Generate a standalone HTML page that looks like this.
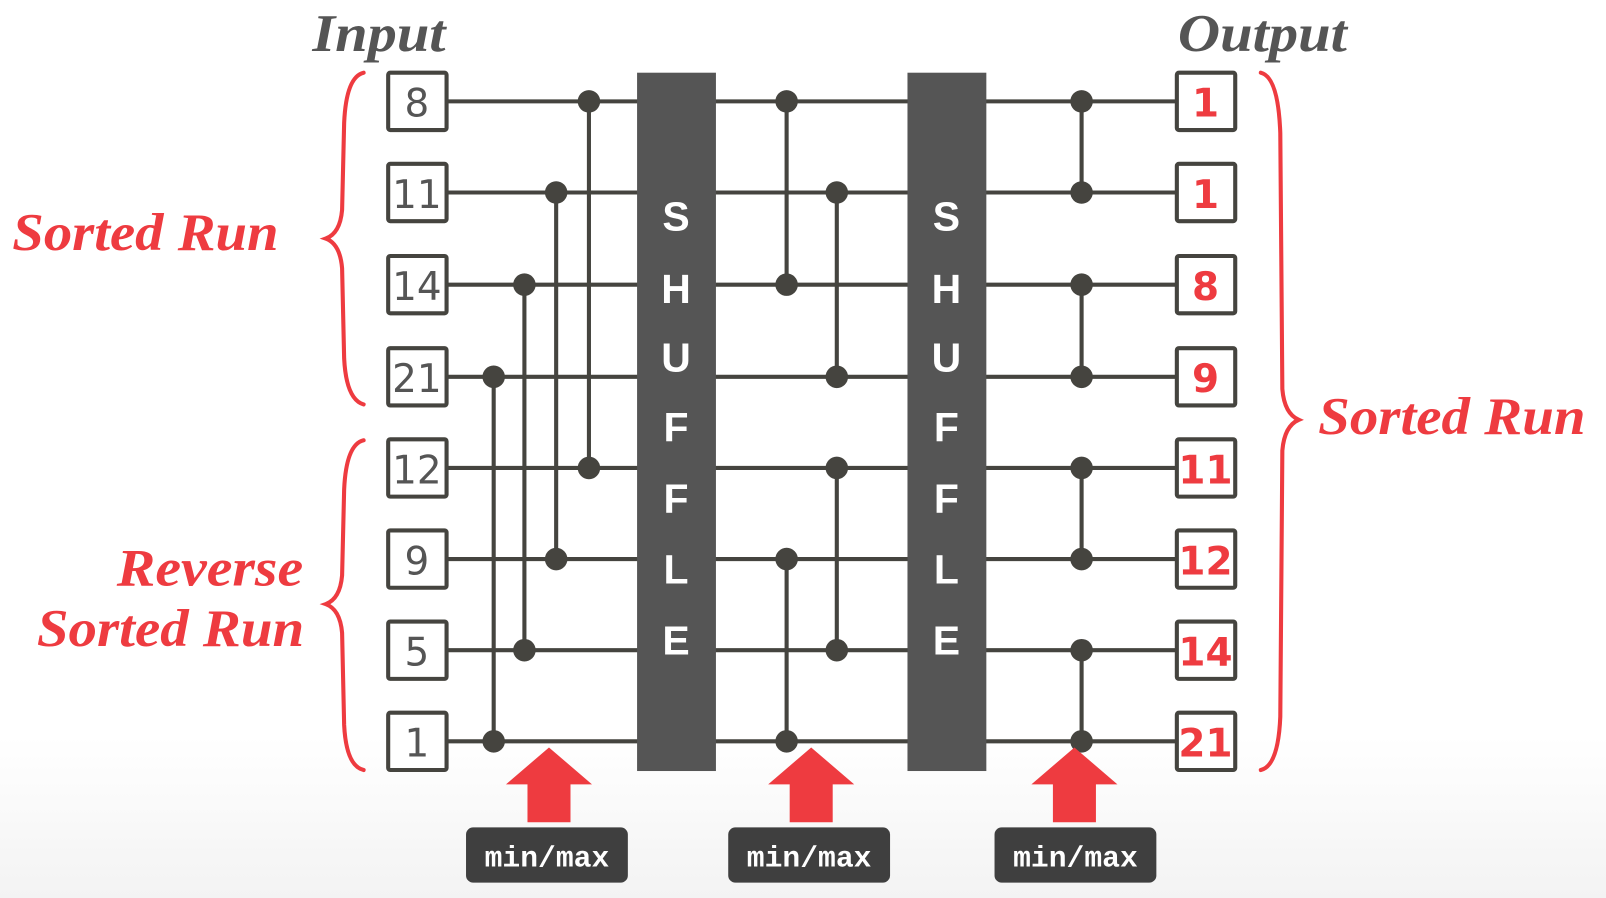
<!DOCTYPE html>
<html><head><meta charset="utf-8"><style>
html,body{margin:0;padding:0;width:1606px;height:898px;overflow:hidden;background:linear-gradient(#fff 0%,#fff 82%,#f3f3f3 100%);}
svg{display:block}
</style></head><body>
<svg width="1606" height="898" viewBox="0 0 1568 877" preserveAspectRatio="none" xmlns="http://www.w3.org/2000/svg">
<g font-family="Liberation Serif, serif" font-style="italic" font-weight="bold">
<text x="305" y="50" font-size="52" fill="#555" textLength="130" lengthAdjust="spacingAndGlyphs">Input</text>
<text x="1150" y="50" font-size="52" fill="#555" textLength="165" lengthAdjust="spacingAndGlyphs">Output</text>
<text x="12" y="244" font-size="52" fill="#ee3b40" textLength="260" lengthAdjust="spacingAndGlyphs">Sorted Run</text>
<text x="114" y="572" font-size="52" fill="#ee3b40" textLength="182" lengthAdjust="spacingAndGlyphs">Reverse</text>
<text x="36" y="631" font-size="52" fill="#ee3b40" textLength="261" lengthAdjust="spacingAndGlyphs">Sorted Run</text>
<text x="1287" y="424" font-size="52" fill="#ee3b40" textLength="261" lengthAdjust="spacingAndGlyphs">Sorted Run</text>
</g>
<g fill="none" stroke="#ee3b40" stroke-width="4" stroke-linecap="round">
<path d="M355,71 Q338,75 336,120 L334,205 Q332,228 318,233 Q332,238 334,262 L336,350 Q338,390 355,395"/>
<path d="M355,430 Q338,434 336,478 L334,562 Q332,585 318,590 Q332,595 334,618 L336,708 Q338,748 355,752"/>
<path d="M1231,71 Q1248,75 1250,130 L1252,380 Q1254,404 1268,410 Q1254,416 1252,440 L1250,700 Q1248,748 1231,752"/>
</g>
<g stroke="#45443f" stroke-width="4">
<line x1="436" y1="99" x2="1148" y2="99"/><line x1="436" y1="188" x2="1148" y2="188"/>
<line x1="436" y1="278" x2="1148" y2="278"/><line x1="436" y1="368" x2="1148" y2="368"/>
<line x1="436" y1="457" x2="1148" y2="457"/><line x1="436" y1="546" x2="1148" y2="546"/>
<line x1="436" y1="635" x2="1148" y2="635"/><line x1="436" y1="724" x2="1148" y2="724"/>
<line x1="575" y1="99" x2="575" y2="457"/><line x1="543" y1="188" x2="543" y2="546"/>
<line x1="512" y1="278" x2="512" y2="635"/><line x1="482" y1="368" x2="482" y2="724"/>
<line x1="768" y1="99" x2="768" y2="278"/><line x1="817" y1="188" x2="817" y2="368"/>
<line x1="817" y1="457" x2="817" y2="635"/><line x1="768" y1="546" x2="768" y2="724"/>
<line x1="1056" y1="99" x2="1056" y2="188"/><line x1="1056" y1="278" x2="1056" y2="368"/>
<line x1="1056" y1="457" x2="1056" y2="546"/><line x1="1056" y1="635" x2="1056" y2="724"/>
</g>
<g fill="#45443f">
<circle cx="575" cy="99" r="11"/><circle cx="575" cy="457" r="11"/>
<circle cx="543" cy="188" r="11"/><circle cx="543" cy="546" r="11"/>
<circle cx="512" cy="278" r="11"/><circle cx="512" cy="635" r="11"/>
<circle cx="482" cy="368" r="11"/><circle cx="482" cy="724" r="11"/>
<circle cx="768" cy="99" r="11"/><circle cx="768" cy="278" r="11"/>
<circle cx="817" cy="188" r="11"/><circle cx="817" cy="368" r="11"/>
<circle cx="817" cy="457" r="11"/><circle cx="817" cy="635" r="11"/>
<circle cx="768" cy="546" r="11"/><circle cx="768" cy="724" r="11"/>
<circle cx="1056" cy="99" r="11"/><circle cx="1056" cy="188" r="11"/>
<circle cx="1056" cy="278" r="11"/><circle cx="1056" cy="368" r="11"/>
<circle cx="1056" cy="457" r="11"/><circle cx="1056" cy="546" r="11"/>
<circle cx="1056" cy="635" r="11"/><circle cx="1056" cy="724" r="11"/>
</g>
<rect x="622" y="71" width="77" height="682" fill="#555"/>
<rect x="886" y="71" width="77" height="682" fill="#555"/>
<g font-family="Liberation Sans, sans-serif" font-weight="bold" font-size="40" fill="#fff" text-anchor="middle">
<text x="660" y="225">S</text><text x="660" y="296">H</text><text x="660" y="363">U</text><text x="660" y="431">F</text><text x="660" y="501">F</text><text x="660" y="570">L</text><text x="660" y="639">E</text>
<text x="924" y="225">S</text><text x="924" y="296">H</text><text x="924" y="363">U</text><text x="924" y="431">F</text><text x="924" y="501">F</text><text x="924" y="570">L</text><text x="924" y="639">E</text>
</g>
<g fill="#fff" stroke="#45443f" stroke-width="4">
<rect x="379" y="71" width="57" height="56" rx="2"/><rect x="379" y="160" width="57" height="56" rx="2"/>
<rect x="379" y="250" width="57" height="56" rx="2"/><rect x="379" y="340" width="57" height="56" rx="2"/>
<rect x="379" y="429" width="57" height="56" rx="2"/><rect x="379" y="518" width="57" height="56" rx="2"/>
<rect x="379" y="607" width="57" height="56" rx="2"/><rect x="379" y="696" width="57" height="56" rx="2"/>
<rect x="1149" y="71" width="57" height="56" rx="2"/><rect x="1149" y="160" width="57" height="56" rx="2"/>
<rect x="1149" y="250" width="57" height="56" rx="2"/><rect x="1149" y="340" width="57" height="56" rx="2"/>
<rect x="1149" y="429" width="57" height="56" rx="2"/><rect x="1149" y="518" width="57" height="56" rx="2"/>
<rect x="1149" y="607" width="57" height="56" rx="2"/><rect x="1149" y="696" width="57" height="56" rx="2"/>
</g>
<g font-family="DejaVu Sans, sans-serif" font-size="38" fill="#555" text-anchor="middle">
<text x="407" y="114">8</text><text x="407" y="203">11</text><text x="407" y="293">14</text><text x="407" y="383">21</text>
<text x="407" y="472">12</text><text x="407" y="561">9</text><text x="407" y="650">5</text><text x="407" y="739">1</text>
</g>
<g font-family="DejaVu Sans, sans-serif" font-weight="bold" font-size="38" fill="#ee3b40" text-anchor="middle">
<text x="1177" y="114">1</text><text x="1177" y="203">1</text><text x="1177" y="293">8</text><text x="1177" y="383">9</text>
<text x="1177" y="472">11</text><text x="1177" y="561">12</text><text x="1177" y="650">14</text><text x="1177" y="739">21</text>
</g>
<g fill="#ee3b40">
<polygon points="536,730 578,766 557,766 557,803 515,803 515,766 494,766"/>
<polygon points="792,730 834,766 813,766 813,803 771,803 771,766 750,766"/>
<polygon points="1049,730 1091,766 1070,766 1070,803 1028,803 1028,766 1007,766"/>
</g>
<g fill="#3f3f3f">
<rect x="455" y="808" width="158" height="54" rx="7"/>
<rect x="711" y="808" width="158" height="54" rx="7"/>
<rect x="971" y="808" width="158" height="54" rx="7"/>
</g>
<g font-family="Liberation Mono, monospace" font-weight="bold" font-size="29" fill="#fff" text-anchor="middle">
<text x="534" y="846">min/max</text><text x="790" y="846">min/max</text><text x="1050" y="846">min/max</text>
</g>
</svg>
</body></html>
